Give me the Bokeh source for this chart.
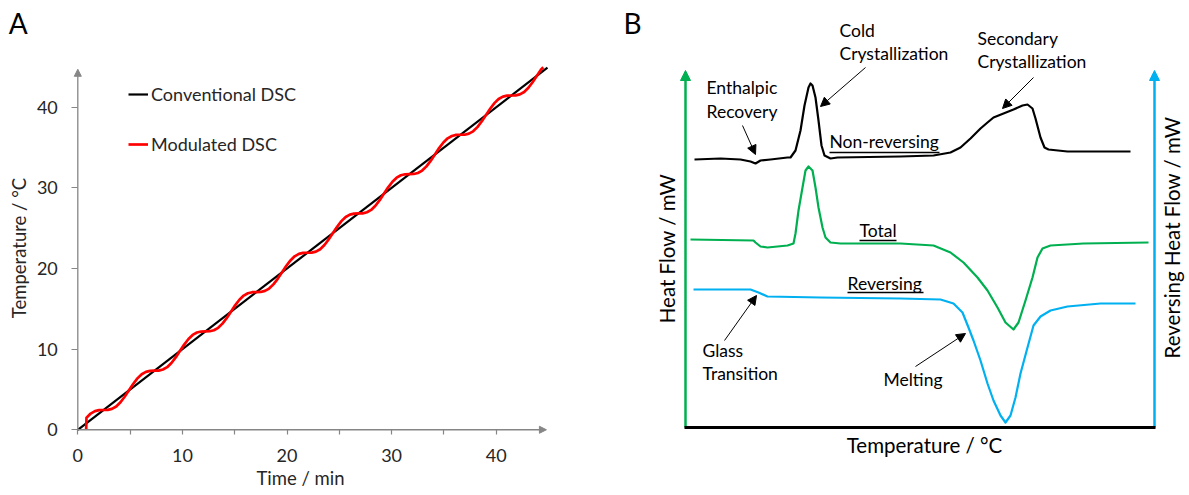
import math
from bokeh.plotting import figure
from bokeh.models import (Range1d, FixedTicker, Legend, LegendItem, Label, Arrow, NormalHead)
from bokeh.layouts import row
from bokeh.embed import file_html
from bokeh.resources import INLINE

FONT = "Lato"
TXT = "#262626"
AXC = "#868686"

# ---------------- Panel A data (time / min, temperature / degC) ----------------
conv_time = [0.0, 44.9]
conv_temp = [0.0, 44.9]

mod_time = [0.80, 0.83, 1.23, 1.64, 2.04,
            2.45, 2.86, 3.26, 3.67, 4.08, 4.48, 4.89, 5.29, 5.70, 6.11, 6.51, 6.92,
            7.33, 7.73, 8.14, 8.54, 8.95, 9.36, 9.76, 10.17, 10.58, 10.98, 11.39, 11.79,
            12.20, 12.61, 13.01, 13.42, 13.83, 14.23, 14.64, 15.04, 15.45, 15.86, 16.26, 16.67,
            17.08, 17.48, 17.89, 18.29, 18.70, 19.11, 19.51, 19.92, 20.33, 20.73, 21.14, 21.54,
            21.95, 22.36, 22.76, 23.17, 23.58, 23.98, 24.39, 24.79, 25.20, 25.61, 26.01, 26.42,
            26.83, 27.23, 27.64, 28.04, 28.45, 28.86, 29.26, 29.67, 30.08, 30.48, 30.89, 31.29,
            31.70, 32.11, 32.51, 32.92, 33.33, 33.73, 34.14, 34.54, 34.95, 35.36, 35.76, 36.17,
            36.58, 36.98, 37.39, 37.79, 38.20, 38.61, 39.01, 39.42, 39.83, 40.23, 40.64, 41.04,
            41.45, 41.86, 42.26, 42.67, 43.08, 43.48, 43.89, 44.29, 44.50]
mod_temp = [0.00, 1.50, 2.01, 2.31, 2.43,
            2.45, 2.47, 2.59, 2.89, 3.41, 4.09, 4.89, 5.68, 6.37, 6.89, 7.18, 7.31,
            7.33, 7.34, 7.47, 7.76, 8.28, 8.97, 9.76, 10.56, 11.25, 11.76, 12.06, 12.18,
            12.20, 12.22, 12.34, 12.64, 13.16, 13.84, 14.64, 15.43, 16.12, 16.64, 16.93, 17.06,
            17.08, 17.09, 17.22, 17.51, 18.03, 18.72, 19.51, 20.31, 21.00, 21.51, 21.81, 21.93,
            21.95, 21.97, 22.09, 22.39, 22.91, 23.59, 24.39, 25.18, 25.87, 26.39, 26.68, 26.81,
            26.83, 26.84, 26.97, 27.26, 27.78, 28.47, 29.26, 30.06, 30.75, 31.26, 31.56, 31.68,
            31.70, 31.72, 31.84, 32.14, 32.66, 33.34, 34.14, 34.93, 35.62, 36.14, 36.43, 36.56,
            36.58, 36.59, 36.72, 37.01, 37.53, 38.22, 39.01, 39.81, 40.50, 41.01, 41.31, 41.43,
            41.45, 41.47, 41.59, 41.89, 42.41, 43.09, 43.89, 44.68, 44.95]

x_ticks_A = [0, 10, 20, 30, 40]
x_minor_A = [5, 15, 25, 35]
y_ticks_A = [0, 10, 20, 30, 40]

# ---------------- Panel B data (schematic, arbitrary units) ----------------
nonrev_x = [9, 35, 55, 65, 70, 75, 85, 102, 105, 110, 115, 119, 123, 125, 127, 130, 133, 136, 139, 145,
            152, 215, 248, 265, 275, 285, 295, 302, 308, 318, 328, 337, 342, 347, 350, 355, 359, 363, 382, 445]
nonrev_y = [268, 269, 268, 266, 264, 267, 268, 270, 270, 277, 297, 322, 340, 344, 342, 330, 307, 282, 272, 269,
            270, 271, 272, 275, 280, 289, 299, 305, 310, 314, 318, 322, 323, 319, 309, 290, 280, 278, 276, 276]

total_x = [5, 68, 70, 75, 82, 102, 108, 110, 113, 117, 120, 123, 127, 130, 133, 137, 140, 145, 155, 215,
           248, 265, 278, 292, 302, 312, 320, 328, 333, 340, 347, 352, 357, 365, 398, 463]
total_y = [188, 187, 185, 181, 180, 182, 184, 194, 217, 240, 257, 261, 257, 240, 220, 200, 190, 185, 184, 184,
           182, 175, 165, 150, 137, 120, 105, 98, 105, 127, 150, 170, 179, 182, 184, 185]

rev_x = [8, 65, 73, 82, 135, 215, 255, 268, 277, 283, 288, 295, 302, 308, 315, 320, 325, 330, 335, 342,
         348, 355, 365, 382, 415, 450]
rev_y = [138, 138, 135, 131, 130, 129, 128, 124, 115, 100, 87, 67, 44, 27, 12, 5, 12, 30, 54, 80,
         102, 111, 117, 121, 124, 124]

GREEN = "#00b050"
BLUE = "#00b0f0"
B_TOP = 357      # top of the schematic axes
B_RIGHT = 469    # right (reversing) axis position


def base_fig(w, h, xr, yr):
    p = figure(width=w, height=h, x_range=xr, y_range=yr, output_backend="svg",
               toolbar_location=None, min_border_left=0, min_border_right=0,
               min_border_top=0, min_border_bottom=0)
    p.title.visible = False
    p.outline_line_color = None
    p.grid.visible = False
    p.background_fill_color = "white"
    p.border_fill_color = "white"
    return p


# =============================== Panel A ===============================
pA = base_fig(600, 495, Range1d(-7.39, 49.97), Range1d(-8.15, 53.23))

for ax in (pA.xaxis[0], pA.yaxis[0]):
    ax.fixed_location = 0
    ax.axis_line_color = None
    ax.major_tick_line_color = AXC
    ax.minor_tick_line_color = AXC
    ax.major_tick_line_width = 1.2
    ax.minor_tick_line_width = 1.2
    ax.major_tick_in = 0
    ax.minor_tick_in = 0
    ax.major_label_text_font = FONT
    ax.major_label_text_font_size = "18px"
    ax.major_label_text_color = TXT
    ax.axis_label_text_font = FONT
    ax.axis_label_text_font_size = "18.5px"
    ax.axis_label_text_font_style = "normal"
    ax.axis_label_text_color = TXT

xa = pA.xaxis[0]
xa.ticker = FixedTicker(ticks=x_ticks_A, minor_ticks=x_minor_A)
xa.major_tick_out = 5
xa.minor_tick_out = 5
xa.major_label_standoff = 14
xa.axis_label = "Time / min"
xa.axis_label_standoff = 2

ya = pA.yaxis[0]
ya.ticker = FixedTicker(ticks=y_ticks_A, minor_ticks=[])
ya.major_tick_out = 6
ya.minor_tick_out = 0
ya.major_label_standoff = 14
ya.axis_label = "Temperature / °C"
ya.axis_label_standoff = 4

# axis lines with arrow heads
pA.add_layout(Arrow(end=NormalHead(size=7, fill_color=AXC, line_color=AXC, line_width=1),
                    x_start=0, y_start=0, x_end=44.8, y_end=0, line_color=AXC, line_width=1.3))
pA.add_layout(Arrow(end=NormalHead(size=7, fill_color=AXC, line_color=AXC, line_width=1),
                    x_start=0, y_start=0, x_end=0, y_end=44.7, line_color=AXC, line_width=1.3))

r_conv = pA.line(conv_time, conv_temp, line_color="black", line_width=2.2)
r_mod = pA.line(mod_time, mod_temp, line_color="#ff0000", line_width=2.7, line_join="round")

legend = Legend(items=[LegendItem(label="Conventional DSC", renderers=[r_conv]),
                       LegendItem(label="Modulated DSC", renderers=[r_mod])],
                location=(128, 340), orientation="vertical", spacing=28,
                glyph_width=20, glyph_height=20, label_height=20, label_standoff=3,
                padding=0, margin=0, border_line_color=None, background_fill_alpha=0,
                label_text_font=FONT, label_text_font_size="18px", label_text_color=TXT)
pA.add_layout(legend)

pA.add_layout(Label(x=-6.6, y=50.5, text="A", text_font=FONT, text_font_size="28px",
                    text_color="black", text_baseline="alphabetic", text_align="left"))

# =============================== Panel B ===============================
pB = base_fig(589, 495, Range1d(-85, 504), Range1d(-68, 427))
pB.xaxis.visible = False
pB.yaxis.visible = False

pB.line(nonrev_x, nonrev_y, line_color="black", line_width=2.2, line_join="round")
pB.line(total_x, total_y, line_color=GREEN, line_width=2.2, line_join="round")
pB.line(rev_x, rev_y, line_color=BLUE, line_width=2.2, line_join="round")

# axes drawn as arrows
pB.add_layout(Arrow(end=NormalHead(size=10, fill_color=GREEN, line_color=GREEN, line_width=1),
                    x_start=0, y_start=0, x_end=0, y_end=B_TOP, line_color=GREEN, line_width=2.5))
pB.add_layout(Arrow(end=NormalHead(size=10, fill_color=BLUE, line_color=BLUE, line_width=1),
                    x_start=B_RIGHT, y_start=0, x_end=B_RIGHT, y_end=B_TOP, line_color=BLUE, line_width=2.5))
pB.add_layout(Arrow(end=None, x_start=-1, y_start=0, x_end=B_RIGHT + 1, y_end=0,
                    line_color="black", line_width=3))

# axis titles
pB.add_layout(Label(x=-19, y=179, text="Heat Flow / mW", angle=math.pi / 2,
                    text_font=FONT, text_font_size="20.5px", text_color="black",
                    text_align="center", text_baseline="middle"))
pB.add_layout(Label(x=486, y=190, text="Reversing Heat Flow / mW", angle=math.pi / 2,
                    text_font=FONT, text_font_size="20.5px", text_color="black",
                    text_align="center", text_baseline="middle"))
pB.add_layout(Label(x=239, y=-17.8, text="Temperature / °C",
                    text_font=FONT, text_font_size="20.5px", text_color="black",
                    text_align="center", text_baseline="alphabetic"))
pB.add_layout(Label(x=-62, y=405, text="B", text_font=FONT, text_font_size="28px",
                    text_color="black", text_baseline="alphabetic", text_align="left"))

notes = [("Enthalpic", 21, 340), ("Recovery", 21, 316),
         ("Cold", 154, 397), ("Crystallization", 154, 374),
         ("Secondary", 292, 389), ("Crystallization", 292, 366),
         ("Glass", 17, 77), ("Transition", 17, 54), ("Melting", 198, 48),
         ("Non-reversing", 144, 286), ("Total", 174, 197), ("Reversing", 162, 144)]
for t, x, y in notes:
    pB.add_layout(Label(x=x, y=y, text=t, text_font=FONT, text_font_size="17.5px",
                        text_color="black", text_baseline="alphabetic", text_align="left"))

# underlines of the curve names
pB.segment(x0=[144, 174, 162], y0=[275, 187, 135], x1=[254, 211, 238], y1=[275, 187, 135],
           line_color="black", line_width=1.3)

pointers = [(57, 302, 70, 273), (180, 360, 135, 321), (348, 350, 317, 319),
            (39, 87, 71, 132), (230, 61, 280, 94)]
for xs, ys, xe, ye in pointers:
    pB.add_layout(Arrow(end=NormalHead(size=9, fill_color="black", line_color="black", line_width=1),
                        x_start=xs, y_start=ys, x_end=xe, y_end=ye,
                        line_color="black", line_width=1))

layout = row(pA, pB)
open("out.html", "w").write(file_html(layout, INLINE))
